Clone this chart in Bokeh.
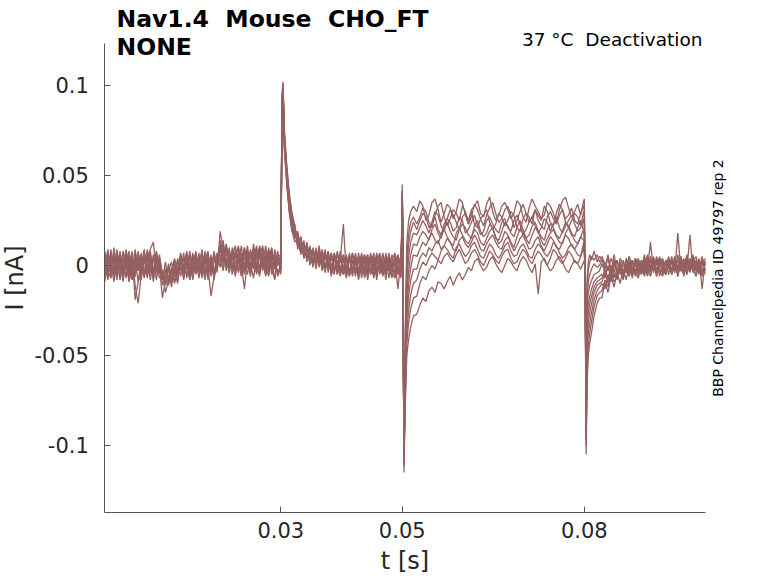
from bokeh.plotting import figure
from bokeh.models import Range1d, FixedTicker, Label
from bokeh.embed import file_html
from bokeh.resources import INLINE
import math

# ---------------- data (time in ms, current in pA) ----------------
tA = [1.0, 1.5, 2.0, 2.5, 3.0, 3.5, 4.0, 4.5, 5.0, 5.5, 6.0, 6.5, 7.0, 7.5, 8.0, 8.5, 9.0, 9.5, 10.0,
      10.5, 11.0, 11.5, 12.0, 12.5, 13.0, 13.5, 14.0, 14.5, 15.0, 15.5, 16.0, 16.5, 17.0, 17.5, 18.0,
      18.5, 19.0, 19.5]
tB = [20.0, 20.5, 21.0, 21.5, 22.0, 22.5, 23.0, 23.5, 24.0, 24.5, 25.0, 25.5, 26.0, 26.5, 27.0, 27.5,
      28.0, 28.5, 29.0, 29.5]
tC = [30.0, 30.2, 30.35, 30.6, 31.0, 31.4, 31.8]
tD = [32.3, 32.8, 33.3, 33.8, 34.3, 34.8, 35.3, 35.8, 36.3, 36.8, 37.3, 37.8, 38.3, 38.8, 39.3, 39.8,
      40.3, 40.8, 41.3, 41.8, 42.3, 42.8, 43.3, 43.8, 44.3, 44.8, 45.3, 45.8, 46.3, 46.8, 47.3, 47.8,
      48.3, 48.8, 49.3, 49.8]
tE = [49.9, 50.0, 50.1, 50.2, 50.3, 50.5, 50.75, 51.05, 51.4, 51.85]
tF = [52.4, 52.9, 53.4, 53.9, 54.4, 54.9, 55.4, 55.9, 56.4, 56.9, 57.4, 57.9, 58.4, 58.9, 59.4, 59.9,
      60.4, 60.9, 61.4, 61.9, 62.4, 62.9, 63.4, 63.9, 64.4, 64.9, 65.4, 65.9, 66.4, 66.9, 67.4, 67.9,
      68.4, 68.9, 69.4, 69.9, 70.4, 70.9, 71.4, 71.9, 72.4, 72.9, 73.4, 73.9, 74.4, 74.9, 75.4, 75.9,
      76.4, 76.9, 77.4, 77.9, 78.4, 78.9, 79.4, 79.9]
tG = [80.0, 80.15, 80.3, 80.45, 80.65, 80.9, 81.2, 81.6, 82.1, 82.5]
tH = [82.9, 83.4, 83.9, 84.4, 84.9, 85.4, 85.9, 86.4, 86.9, 87.4, 87.9, 88.4, 88.9, 89.4, 89.9, 90.4,
      90.9, 91.4, 91.9, 92.4, 92.9, 93.4, 93.9, 94.4, 94.9, 95.4, 95.9, 96.4, 96.9, 97.4, 97.9, 98.4,
      98.9, 99.4, 99.9]

segA = [
    [5, -7, 9, -3, 6, -8, 2, 8, -5, 3, -6, 7, -2, 9, -6, 4, -9, 6, -1, -8, 2, -10, -3, 4, -7, 6, -2, 8, -5, 1, 7, -6, 3, -8, 4, -2, 6, -4],
    [-4, 8, -7, 10, -2, 5, -8, 3, -9, 6, -11, -21, -5, 7, -3, 8, -7, 2, 4, -11, -5, -2, -12, 1, -8, 5, -6, 7, -1, -7, 6, -3, 9, -5, 2, -6, 7, -2],
    [8, -4, 3, -9, 6, 1, -6, 9, -3, -8, 4, -2, 7, -7, 3, 9, 13, -4, 2, -7, -9, 1, -8, -3, -10, 3, -1, 6, -8, 5, -3, 7, -6, 3, 8, -5, 2, 6],
    [-7, 3, -1, 6, -8, 7, -4, 2, 8, -6, 3, -9, -4, 5, -7, 6, -3, 8, -1, -18, -8, -3, 2, -9, -2, 7, -5, 3, -8, 6, -1, 4, -7, 8, -3, 3, -6, 4],
    [2, -8, 6, -4, 9, -3, 4, -7, 0, 7, -19, -9, 3, -5, 8, -4, 6, -8, 3, -4, -11, -6, -2, -10, -1, 4, -7, 2, 6, -4, 8, -5, -1, 4, -8, 6, -3, 1],
    [-4, 9, -2, 4, -6, 3, -9, 6, -3, 8, -5, 2, -8, 4, -1, 7, -4, 3, -7, -3, -8, -11, -1, -5, 4, -3, 7, -7, 2, -4, 6, -3, 8, -6, -1, -17, -6, 3],
    [6, -3, -7, 8, -4, 7, 0, -6, 4, -8, 7, -3, 5, -6, 9, -1, -7, 4, -4, -5, -15, -8, -2, -6, -4, 2, -8, 4, -3, 7, -5, 3, -4, 7, -2, 4, -8, 6],
    [-9, 5, 1, -5, 3, -7, 8, -3, 6, -2, -4, 8, -6, 3, -4, 5, -6, 7, -2, -7, -3, -9, -5, -1, -8, 5, -4, 3, -7, 4, -3, 5, -1, -6, 7, -4, 8, -2],
    [3, -5, 7, -8, 1, 6, -4, 5, -9, 2, -6, 4, -3, 8, -5, 2, -7, 5, -3, -6, -2, -8, -4, 3, -7, 6, -1, -5, 8, -3, 5, -7, 2, 6, -4, 1, -5, 7],
    [-2, 7, -4, 3, -6, 8, -5, 1, 5, -7, 9, -3, 2, -6, 5, -8, 4, -2, 6, -5, -7, -1, -9, -3, 2, -6, 4, -2, 5, -8, 3, -4, 7, -1, -5, 4, -7, 2],
]
segB = [
    [19, 9, -1, 10, -3, 7, 1, 11, -4, 6, -1, 9, -5, 5, 11, -2, 8, -4, 6, 0],
    [14, 4, 11, -4, 8, -2, 6, -5, 10, 1, -6, 8, -1, 11, -3, 6, -5, 9, -2, 5],
    [7, 13, 0, 8, -5, 6, 10, -3, 4, 8, -4, 12, 0, -6, 7, 1, 10, -3, -7, 4],
    [10, 1, 12, 3, -3, 9, 2, -6, 8, -1, 9, 1, -4, 8, 2, -5, 5, 9, -1, -4],
    [2, 11, -3, 7, 1, -5, 9, 4, -2, 11, -4, 3, 8, -3, 10, 0, -6, 7, 1, 8],
    [12, 3, 8, -2, 6, 11, -4, 4, -3, 8, 1, -7, 5, 10, -2, 4, 8, -5, 9, 0],
    [6, -3, 10, 2, 8, -4, 5, 0, -13, 3, 7, -2, 9, -5, 5, 8, -3, 4, -8, 5],
    [8, 14, -1, 6, -4, 5, 11, 1, -5, 9, 0, 5, -3, 10, 2, -4, 8, 0, 4, -6],
    [-1, 8, 4, -4, 10, 2, -3, 7, 1, -5, 8, 3, 11, -2, 5, -6, 3, 10, -2, 6],
    [4, -2, 9, 1, 5, -6, 7, 3, 10, -1, 4, 9, -3, 6, 0, 11, -2, 5, 1, -3],
]
segC = [
    [4, 92, 101, 74, 55, 40, 30],
    [-3, 88, 99, 66, 46, 31, 22],
    [5, 95, 102, 71, 52, 37, 28],
    [0, 85, 96, 63, 44, 29, 20],
    [-5, 90, 100, 69, 50, 35, 26],
    [3, 83, 95, 64, 47, 32, 19],
    [6, 91, 99, 70, 53, 38, 29],
    [-1, 87, 98, 72, 49, 33, 23],
    [2, 89, 97, 67, 45, 30, 25],
    [-2, 93, 100, 73, 51, 36, 21],
]
segD = [
    [22, 10, 16, 4, 13, 0, 9, -2, 11, 1, -3, 8, -6, 7, -2, 8, -5, 4, -6, 7, -4, 5, -7, 2, 6, -5, 4, -8, 6, -2, 4, -7, 3, 7, -5, 2],
    [15, 19, 6, 14, 2, 11, -1, 10, 0, 8, -4, 7, -2, -5, 7, -3, 6, -6, 5, -4, 7, -7, 3, -2, 6, -5, 7, -3, 2, -6, 5, -1, -7, 6, -3, 6],
    [21, 9, 15, 5, 12, 1, 10, 0, 8, -2, 9, -4, 7, -3, 6, 3, 23, -5, 5, -3, 4, -8, 3, 6, -4, 5, -6, 2, 7, -5, 3, -3, 6, -6, 4, -4],
    [13, 15, 7, 13, 3, 10, 1, 8, -1, 9, -2, 6, -5, 7, 0, -6, 5, -3, 7, -5, 2, -4, 6, -7, 1, 5, -3, 7, -5, 3, -8, 5, 0, -4, 6, -6],
    [20, 16, 8, 10, 11, 2, 8, 1, 9, -3, 7, -1, 6, -4, 8, -2, -5, 6, -4, 3, -6, 7, -3, 4, -5, 7, -7, 3, -1, 6, -4, 4, -6, 2, -13, 5],
    [18, 11, 16, 4, 10, 5, 0, 9, 2, 5, 8, -3, 4, 6, -5, 5, -1, -7, 4, 6, -3, -5, 7, -4, 4, -3, 3, -6, 6, 0, -5, 7, -4, -7, 3, -1],
    [17, 15, 7, 12, 4, 7, 9, 2, 5, 3, -1, 8, -4, 5, -2, 7, -4, 4, -6, 2, 4, -5, 1, 6, -8, 2, 6, -4, 4, -5, 6, -3, -1, 5, -3, -7],
    [23, 12, 14, 6, 9, 8, 3, 7, 4, 0, 6, -2, 7, -3, 3, -4, 6, -1, -5, 7, -4, 2, 5, -6, 3, -3, -5, 6, -4, 7, -2, 3, -5, 2, 6, -4],
    [16, 17, 10, 7, 11, 4, 7, 3, 2, 6, -2, 5, 0, 4, -5, 3, -1, 5, -3, -2, 5, -4, 0, 3, -6, 4, -2, 5, -1, -5, 7, -3, 2, -6, 4, 1],
    [19, 13, 12, 11, 5, 9, 6, 4, 7, 1, 5, 2, -3, 6, 1, -4, 3, -2, 4, -6, 6, -2, -4, 5, -3, 6, 0, -5, 3, -2, -4, 6, -1, 4, -5, 3],
]
segE = [
    [18, 42, 20, -55, -110, -35, 12, 25, 30, 33],
    [14, 36, 12, -60, -115, -42, 4, 18, 24, 27],
    [16, 45, 22, -50, -105, -48, -3, 12, 19, 24],
    [10, 33, 10, -62, -98, -53, -10, 5, 13, 18],
    [15, 40, 16, -58, -112, -58, -17, -3, 6, 12],
    [9, 30, 8, -65, -100, -62, -24, -10, -1, 6],
    [17, 38, 18, -52, -95, -66, -30, -17, -8, -2],
    [12, 35, 11, -60, -108, -70, -37, -25, -16, -10],
    [13, 41, 15, -56, -102, -74, -43, -32, -24, -18],
    [11, 34, 9, -63, -109, -78, -50, -41, -34, -28],
]
segF = [
    [30, 36, 33, 25, 28, 35, 37, 31, 24, 29, 34, 32, 26, 30, 37, 35, 28, 23, 31, 33, 36, 29, 27, 34, 38, 30, 25, 28, 33, 35, 31, 26, 29, 36, 34, 27, 24, 32, 37, 33, 30, 26, 28, 35, 33, 29, 24, 31, 36, 38, 32, 27, 30, 34, 28, 36],
    [23, 27, 32, 30, 24, 21, 28, 33, 35, 27, 22, 26, 31, 29, 25, 33, 30, 23, 27, 34, 31, 26, 22, 28, 32, 35, 29, 24, 26, 31, 33, 28, 21, 25, 30, 34, 29, 27, 23, 31, 28, 25, 33, 30, 24, 22, 29, 34, 31, 26, 28, 32, 25, 23, 29, 33],
    [20, 25, 29, 27, 21, 24, 30, 28, 22, 19, 26, 31, 28, 24, 20, 27, 29, 25, 30, 23, 21, 26, 28, 31, 24, 20, 23, 29, 27, 22, 25, 30, 28, 21, 19, 26, 29, 24, 27, 31, 25, 22, 20, 27, 30, 26, 23, 28, 31, 24, 21, 25, 29, 27, 22, 30],
    [17, 21, 25, 22, 18, 24, 27, 20, 17, 23, 26, 24, 19, 21, 27, 25, 18, 20, 24, 28, 22, 17, 19, 25, 27, 23, 20, 18, 24, 26, 21, 19, 25, 28, 23, 17, 20, 24, 27, 22, 18, 21, 26, 24, 19, 23, 27, 21, 18, 22, 25, 28, 23, 19, 21, 26],
    [11, 16, 19, 17, 14, 20, 23, 18, 15, 21, 24, 19, 16, 14, 20, 23, 21, 17, 15, 22, 25, 19, 16, 18, 23, 21, 15, 14, 19, 24, 22, 18, 16, 21, 25, 20, 15, 17, 22, 24, 19, 16, 14, 20, 23, 21, 17, 15, 19, 24, 22, 18, 16, 21, 25, 19],
    [5, 9, 13, 11, 15, 18, 14, 12, 17, 20, 16, 13, 11, 18, 21, 17, 14, 12, 16, 20, 18, 13, 11, 15, 19, 21, 16, 12, 14, 19, 17, 13, 10, 16, 20, 18, 15, 12, 17, 21, 19, 14, 11, 15, 18, 20, 16, 13, 12, 18, 21, 17, 14, 12, 16, 20],
    [-2, 4, 7, 5, 10, 8, 12, 14, 9, 11, 15, 13, 9, 8, 14, 16, 12, 10, 13, 17, 14, 9, 8, 12, 15, 17, 13, 10, 9, 14, 16, 12, 8, 11, 15, 17, 13, 9, 10, 14, 16, 11, 8, 12, 16, 14, 10, 9, 13, 17, 15, 11, 9, 12, 16, 14],
    [-8, -2, 2, 0, 4, 7, 5, 3, 8, 11, 9, 6, 4, 10, 12, 8, 5, 7, 11, 13, 9, 5, 4, 8, 12, 10, 6, 4, 7, 11, 13, 8, 5, 6, 10, 12, 9, 5, 4, 9, 12, 10, 7, 5, 8, 13, 11, 7, 4, 6, 10, 12, 9, 6, 5, 13],
    [-17, -10, -6, -8, -3, 0, -2, 3, 1, 5, 7, 4, 2, 6, 9, 5, 1, 3, 7, 9, 6, 2, 0, 4, 8, 6, 3, 1, 5, 8, 9, 4, 1, 2, 6, 9, 7, 3, 1, 5, 8, 6, 3, 0, 4, 9, 7, 3, 1, 4, 8, 6, 2, 1, 5, 10],
    [-27, -22, -18, -20, -14, -12, -15, -9, -10, -13, -9, -6, -11, -7, -4, -8, -5, -1, -3, 2, 4, 0, -3, -1, 3, 5, 1, -2, -4, 0, 4, 2, -1, -3, 2, 5, 3, -1, -4, 1, -16, 2, 4, 0, -3, -1, 3, 5, 2, -2, -4, 0, 3, 1, -2, 2],
]
segG = [
    [37, -15, -105, -66, -50, -43, -37, -28, -21, -18],
    [30, -12, -100, -58, -45, -37, -31, -23, -17, -15],
    [28, -18, -97, -50, -38, -32, -26, -19, -14, -12],
    [22, -10, -94, -43, -32, -26, -21, -15, -11, -10],
    [20, -14, -96, -36, -26, -21, -17, -12, -9, -8],
    [15, -8, -90, -30, -21, -17, -13, -9, -7, -6],
    [12, -11, -88, -24, -15, -11, -8, -5, -4, -3],
    [9, -6, -86, -18, -9, -5, -2, 1, -1, 0],
    [6, -9, -92, -12, -3, 2, 5, 3, 6, 2],
    [3, -6, -84, -8, 2, 6, 3, 8, 2, 5],
]
segH = [
    [-18, -9, -15, -6, -12, -4, -10, -2, -8, 1, -7, 2, -6, 3, -5, 2, -4, 4, -6, 3, -2, -5, 4, -3, 2, -6, 5, -2, 3, -4, 6, -3, 1, -5, 4],
    [-14, -8, -12, -4, -9, -6, -1, -8, 0, -6, 3, -5, 1, -4, 4, -3, -6, 2, -4, 5, -2, -5, 3, 1, -4, 6, -3, 2, -5, 4, -2, -6, 3, -3, 1],
    [-10, -13, -5, -9, -2, -8, 0, -6, 1, -5, 3, -4, -7, 2, -3, 4, -5, 1, 3, -6, 2, -3, 5, -4, 1, -2, 4, -6, 3, -3, 5, -2, -4, 2, -3],
    [-9, -4, -10, -1, -7, -3, 1, -6, -2, 2, -5, 0, 4, -4, 1, -6, 3, -3, 5, -2, -4, 2, -5, 3, -3, 18, -2, -5, 4, -3, 1, -6, 3, -2, -4],
    [-7, -2, -8, 0, -5, -7, 2, -4, 0, -6, 3, -3, 1, -5, 4, -2, 13, -4, 2, -3, -6, 3, 1, -4, 5, -2, -3, 4, -5, 2, -3, 3, -4, 1, -2],
    [-5, -7, 0, -6, -1, 2, -5, 3, -4, 0, 2, -6, 3, -3, -5, 2, -2, 4, -4, 1, 3, -5, 2, -3, 4, -6, 1, 3, -2, 17, -4, 2, -3, 5, -3],
    [1, -4, -1, -6, 3, -3, 2, -5, 3, -2, -4, 4, -3, 1, -6, 3, -2, 5, -4, 2, -3, 1, 4, -5, 2, -2, 3, -4, 5, -3, 1, -2, 4, -13, 2],
    [3, -2, 4, -4, 6, -3, 1, -5, 4, -1, -3, 4, 0, -5, 3, -2, 5, -3, 1, 4, -4, 2, -2, 5, -3, 3, -1, -4, 4, -2, 2, 5, -3, 3, -5],
    [5, 1, -3, 4, -1, 3, -4, 2, -2, 5, -5, 1, 3, -2, 6, -4, 0, 3, -6, 2, 4, -3, 1, -5, 3, -1, 5, -2, -4, 3, -1, 2, -5, 4, 0],
    [4, -1, 6, -3, 2, -5, 4, 0, -3, 5, -2, 2, -4, 3, -1, 6, -3, 1, -2, 4, -5, 3, 0, -3, 5, -4, 2, -1, 6, -3, 3, -2, 1, -6, 2],
]

x_ticks = [0.03, 0.05, 0.08]
x_tick_labels = ["0.03", "0.05", "0.08"]
y_ticks = [-0.1, -0.05, 0, 0.05, 0.1]
y_tick_labels = ["-0.1", "-0.05", "0", "0.05", "0.1"]
x_axis_bounds = (0.001, 0.1)          # t [s] span of the axes
y_axis_bounds = (-0.13722, 0.12333)   # I [nA] span of the axes

title_line1 = "Nav1.4 \u00a0Mouse \u00a0CHO_FT"
title_line2 = "NONE"
cond_text = "37 \u00b0C \u00a0Deactivation"
side_text = "BBP Channelpedia ID 49797 rep 2"

TRACE_COLOR = "#956060"
FONT = "DejaVu Sans"
AX_COLOR = "#262626"
AX_LINE = "#555555"

# ---------------- figure ----------------
# The frame fills the whole canvas; the axes are pinned (fixed_location) at
# the edges of the data window, so that the texts outside it are not clipped.
p = figure(width=778, height=583, output_backend="svg", toolbar_location=None,
           x_range=Range1d(-0.016183, 0.111988), y_range=Range1d(-0.176667, 0.147222),
           min_border=0)
p.min_border_left = 0
p.min_border_right = 0
p.min_border_top = 0
p.min_border_bottom = 0
p.outline_line_color = None
p.xgrid.visible = False
p.ygrid.visible = False
p.background_fill_color = "white"
p.border_fill_color = "white"

segments = [(tA, segA), (tB, segB), (tC, segC), (tD, segD), (tE, segE), (tF, segF), (tG, segG), (tH, segH)]
for k in range(len(segA)):
    xs, ys = [], []
    for tt, seg in segments:
        vals = seg[k]
        n = min(len(tt), len(vals))
        xs += [v / 1000.0 for v in tt[:n]]
        ys += [v / 1000.0 for v in vals[:n]]
    p.line(xs, ys, line_color=TRACE_COLOR, line_width=1.3)

for ax in (p.xaxis[0], p.yaxis[0]):
    ax.axis_line_color = AX_LINE
    ax.axis_line_width = 1
    ax.major_tick_line_color = AX_LINE
    ax.major_tick_in = 6
    ax.major_tick_out = 0
    ax.minor_tick_line_color = None
    ax.major_label_text_font = FONT
    ax.major_label_text_font_size = "21px"
    ax.major_label_text_color = AX_COLOR
    ax.axis_label_text_font = FONT
    ax.axis_label_text_font_size = "24px"
    ax.axis_label_text_font_style = "normal"
    ax.axis_label_text_color = AX_COLOR

p.xaxis.ticker = FixedTicker(ticks=x_ticks)
p.xaxis.major_label_overrides = dict(zip(x_ticks, x_tick_labels))
p.yaxis.ticker = FixedTicker(ticks=y_ticks)
p.yaxis.major_label_overrides = dict(zip(y_ticks, y_tick_labels))
p.xaxis.fixed_location = y_axis_bounds[0]
p.yaxis.fixed_location = x_axis_bounds[0]
p.xaxis.bounds = x_axis_bounds
p.yaxis.bounds = y_axis_bounds
p.xaxis.axis_label = "t [s]"
p.yaxis.axis_label = "I [nA]"
p.xaxis.major_label_standoff = 10
p.xaxis.axis_label_standoff = 5
p.yaxis.major_label_standoff = 16
p.yaxis.axis_label_standoff = 2

p.add_layout(Label(x=0.002927, y=0.13694, text=title_line1, text_font=FONT, text_font_size="23.5px",
                   text_font_style="bold", text_color="black", text_baseline="alphabetic"))
p.add_layout(Label(x=0.002927, y=0.12139, text=title_line2, text_font=FONT, text_font_size="23.5px",
                   text_font_style="bold", text_color="black", text_baseline="alphabetic"))
p.add_layout(Label(x=0.09947, y=0.12531, text=cond_text, text_font=FONT, text_font_size="18.5px",
                   text_color="black", text_align="right", text_baseline="alphabetic"))
p.add_layout(Label(x=0.102024, y=-0.006944, text=side_text, text_font=FONT, text_font_size="14px",
                   text_color="black", text_align="center", text_baseline="middle", angle=math.pi / 2))

open("out.html", "w").write(file_html(p, INLINE))
